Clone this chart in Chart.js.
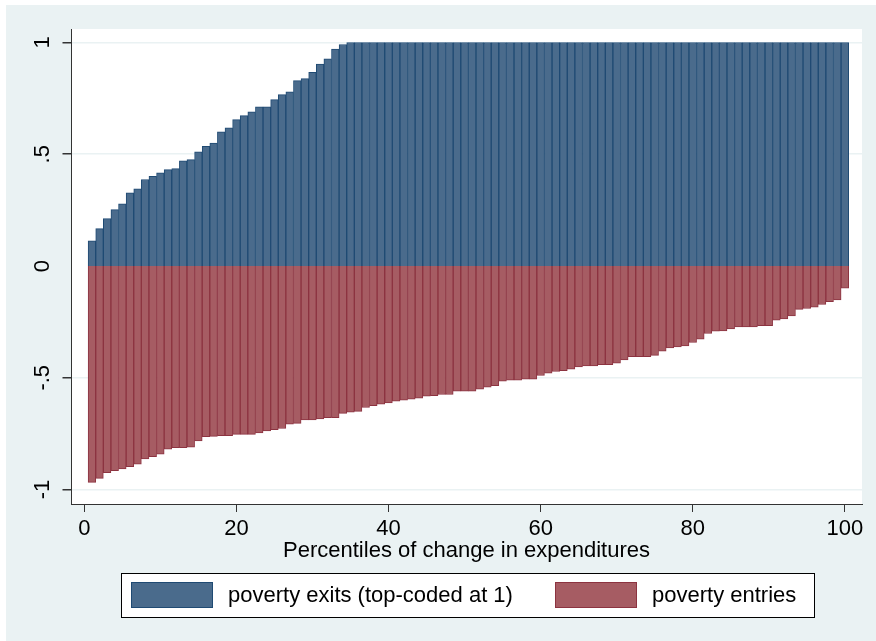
<!DOCTYPE html>
<html>
<head>
<meta charset="utf-8">
<script src="https://cdn.jsdelivr.net/npm/chart.js@4/dist/chart.umd.min.js"></script>
<style>
  html, body { margin: 0; padding: 0; background: #ffffff; }
  #wrap { position: relative; width: 876px; height: 641px; }
  canvas { display: block; }
</style>
</head>
<body>
<div id="wrap"><canvas id="chart" width="876" height="641"></canvas></div>
<script>
// Percentile of change in expenditures (bar positions)
const percentiles = [
  1, 2, 3, 4, 5, 6, 7, 8, 9, 10, 11, 12, 13, 14, 15, 16, 17, 18, 19, 20,
  21, 22, 23, 24, 25, 26, 27, 28, 29, 30, 31, 32, 33, 34, 35, 36, 37, 38, 39, 40,
  41, 42, 43, 44, 45, 46, 47, 48, 49, 50, 51, 52, 53, 54, 55, 56, 57, 58, 59, 60,
  61, 62, 63, 64, 65, 66, 67, 68, 69, 70, 71, 72, 73, 74, 75, 76, 77, 78, 79, 80,
  81, 82, 83, 84, 85, 86, 87, 88, 89, 90, 91, 92, 93, 94, 95, 96, 97, 98, 99, 100
];

// Share exiting poverty (top-coded at 1)
const povertyExits = [
  0.113, 0.167, 0.212, 0.252, 0.278, 0.327, 0.345, 0.387, 0.401, 0.417,
  0.431, 0.436, 0.470, 0.476, 0.511, 0.535, 0.550, 0.600, 0.618, 0.655,
  0.673, 0.690, 0.712, 0.712, 0.744, 0.767, 0.779, 0.829, 0.838, 0.867,
  0.903, 0.927, 0.970, 0.991, 1, 1, 1, 1, 1, 1,
  1, 1, 1, 1, 1, 1, 1, 1, 1, 1,
  1, 1, 1, 1, 1, 1, 1, 1, 1, 1,
  1, 1, 1, 1, 1, 1, 1, 1, 1, 1,
  1, 1, 1, 1, 1, 1, 1, 1, 1, 1,
  1, 1, 1, 1, 1, 1, 1, 1, 1, 1,
  1, 1, 1, 1, 1, 1, 1, 1, 1, 1
];

// Share entering poverty (drawn downward)
const povertyEntries = [
  -0.968, -0.950, -0.925, -0.916, -0.908, -0.898, -0.887, -0.863, -0.853, -0.842,
  -0.819, -0.813, -0.813, -0.811, -0.783, -0.763, -0.762, -0.759, -0.759, -0.753,
  -0.753, -0.753, -0.747, -0.738, -0.732, -0.727, -0.708, -0.704, -0.689, -0.689,
  -0.684, -0.678, -0.678, -0.659, -0.654, -0.650, -0.633, -0.625, -0.618, -0.612,
  -0.605, -0.600, -0.596, -0.591, -0.582, -0.580, -0.575, -0.575, -0.560, -0.560,
  -0.560, -0.551, -0.542, -0.535, -0.515, -0.511, -0.511, -0.506, -0.506, -0.490,
  -0.479, -0.472, -0.468, -0.461, -0.451, -0.447, -0.447, -0.441, -0.441, -0.435,
  -0.420, -0.406, -0.406, -0.406, -0.400, -0.381, -0.366, -0.362, -0.357, -0.342,
  -0.327, -0.302, -0.291, -0.290, -0.282, -0.272, -0.272, -0.272, -0.267, -0.267,
  -0.242, -0.237, -0.223, -0.194, -0.190, -0.184, -0.172, -0.159, -0.152, -0.099
];

const xTickValues = [0, 20, 40, 60, 80, 100];
const yTickValues = [-1, -0.5, 0, 0.5, 1];
const yTickLabels = ['-1', '-.5', '0', '.5', '1'];
const seriesLabels = ['poverty exits (top-coded at 1)', 'poverty entries'];
const xAxisTitle = 'Percentiles of change in expenditures';

const FONT = "'Liberation Sans', Arial, sans-serif";
const TEXT_SIZE = 22;
const GRAPH_BG = '#eaf2f3';
const EXIT_FILL = '#4a6b8c', EXIT_EDGE = '#1f4a73';
const ENTRY_FILL = '#a65c63', ENTRY_EDGE = '#8c3340';

// Light graph region (inside a thin white margin) with a white plot region
const backgroundPlugin = {
  id: 'stataBackground',
  beforeDraw(chart) {
    const { ctx, chartArea: a } = chart;
    ctx.save();
    ctx.fillStyle = '#ffffff';
    ctx.fillRect(0, 0, chart.width, chart.height);
    ctx.fillStyle = GRAPH_BG;
    ctx.fillRect(6, 5, chart.width - 6, chart.height - 5);
    ctx.fillStyle = '#ffffff';
    ctx.fillRect(a.left, a.top, a.right - a.left, a.bottom - a.top);
    ctx.restore();
  }
};

// Vertical (rotated) y tick labels
const yLabelPlugin = {
  id: 'rotatedYLabels',
  afterDraw(chart) {
    const { ctx } = chart;
    const y = chart.scales.y;
    ctx.save();
    ctx.fillStyle = '#000';
    ctx.font = TEXT_SIZE + 'px ' + FONT;
    ctx.textAlign = 'center';
    ctx.textBaseline = 'middle';
    yTickValues.forEach((v, i) => {
      const py = y.getPixelForValue(v);
      ctx.save();
      ctx.translate(43, py);
      ctx.rotate(-Math.PI / 2);
      ctx.fillText(yTickLabels[i], 0, 0);
      ctx.restore();
    });
    ctx.restore();
  }
};

// Boxed legend below the plot
const legendPlugin = {
  id: 'boxedLegend',
  afterDraw(chart) {
    const { ctx } = chart;
    const fills = [EXIT_FILL, ENTRY_FILL];
    const edges = [EXIT_EDGE, ENTRY_EDGE];
    const swatchX = [131, 555];
    const textX = [228, 652];
    ctx.save();
    ctx.fillStyle = '#ffffff';
    ctx.fillRect(121, 573, 693, 44);
    ctx.strokeStyle = '#000';
    ctx.lineWidth = 1;
    ctx.strokeRect(121.5, 573.5, 693, 44);
    ctx.font = TEXT_SIZE + 'px ' + FONT;
    ctx.textBaseline = 'middle';
    ctx.textAlign = 'left';
    for (let i = 0; i < 2; i++) {
      ctx.fillStyle = fills[i];
      ctx.fillRect(swatchX[i], 582, 82, 26);
      ctx.strokeStyle = edges[i];
      ctx.strokeRect(swatchX[i] + 0.5, 582.5, 81, 25);
      ctx.fillStyle = '#000';
      ctx.fillText(seriesLabels[i], textX[i], 596);
    }
    ctx.restore();
  }
};

new Chart(document.getElementById('chart'), {
  type: 'bar',
  data: {
    datasets: [
      {
        label: seriesLabels[0],
        data: percentiles.map((p, i) => ({ x: p, y: povertyExits[i] })),
        backgroundColor: EXIT_FILL,
        borderColor: EXIT_EDGE,
        borderWidth: 1,
        barPercentage: 1,
        categoryPercentage: 1
      },
      {
        label: seriesLabels[1],
        data: percentiles.map((p, i) => ({ x: p, y: povertyEntries[i] })),
        backgroundColor: ENTRY_FILL,
        borderColor: ENTRY_EDGE,
        borderWidth: 1,
        barPercentage: 1,
        categoryPercentage: 1
      }
    ]
  },
  options: {
    responsive: false,
    animation: false,
    devicePixelRatio: 1,
    layout: { padding: { left: 0, top: 29, right: 14, bottom: 79 } },
    plugins: { legend: { display: false }, tooltip: { enabled: false } },
    scales: {
      x: {
        type: 'linear',
        stacked: true,
        offset: false,
        min: -1.75,
        max: 102.25,
        afterBuildTicks(scale) { scale.ticks = xTickValues.map(v => ({ value: v })); },
        afterFit(scale) { scale.height = 58; },
        ticks: {
          color: '#000',
          font: { family: FONT, size: TEXT_SIZE },
          padding: 4,
          maxRotation: 0,
          autoSkip: false
        },
        grid: { display: true, offset: false, drawOnChartArea: false, drawTicks: true, tickLength: 8, color: '#333' },
        border: { display: true, color: '#333', width: 1 },
        title: {
          display: true,
          text: xAxisTitle,
          color: '#000',
          font: { family: FONT, size: TEXT_SIZE },
          padding: { top: 0, bottom: -2 }
        }
      },
      y: {
        type: 'linear',
        stacked: true,
        min: -1.0647,
        max: 1.0603,
        afterBuildTicks(scale) { scale.ticks = yTickValues.map(v => ({ value: v })); },
        afterFit(scale) { scale.width = 71; },
        ticks: { display: false },
        grid: {
          display: true,
          drawOnChartArea: true,
          drawTicks: true,
          tickLength: 8.5,
          color: GRAPH_BG,
          tickColor: '#333',
          // the zero line sits under the bar bases, so the bars meet without a gap
          lineWidth: (c) => (c.tick && c.tick.value === 0 ? 0 : 1.5)
        },
        border: { display: true, color: '#333', width: 1 }
      }
    }
  },
  plugins: [backgroundPlugin, yLabelPlugin, legendPlugin]
});
</script>
</body>
</html>
